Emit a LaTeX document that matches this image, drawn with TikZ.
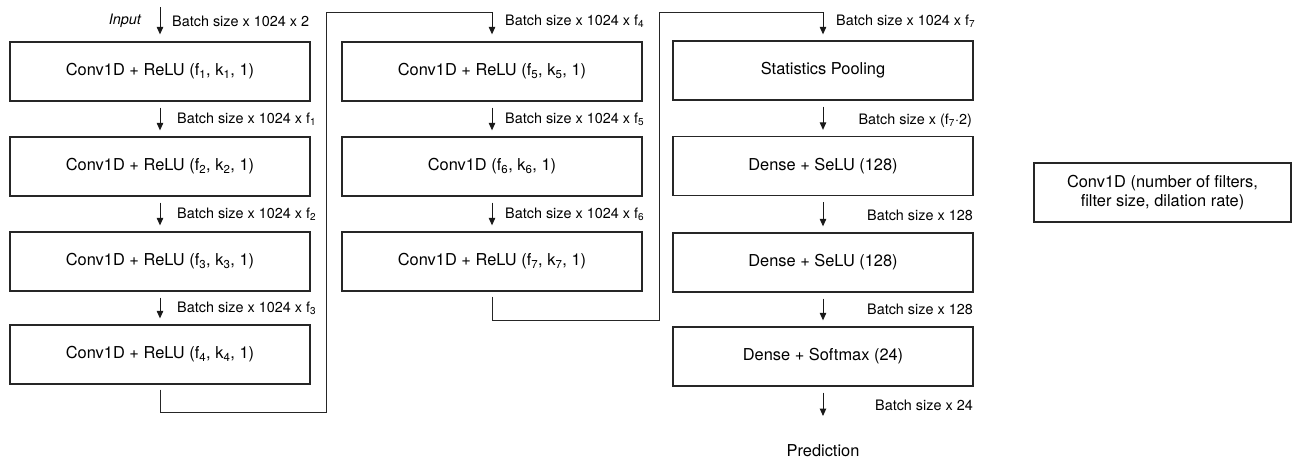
\documentclass[tikz,border=0pt]{standalone}
\usepackage{fontspec}
\setmainfont{TeX Gyre Heros}
\usetikzlibrary{arrows.meta}
\newcommand\lowidx[1]{\textsubscript{#1}}
\begin{document}
\begin{tikzpicture}[x=1pt,y=-1pt,
  layer/.style={draw=black!85,line width=1.3pt,minimum width=300pt,minimum height=59pt,
    inner sep=0pt,font=\fontsize{16.4}{19.5}\selectfont},
  legendbox/.style={draw=black!85,line width=1.3pt,minimum width=257pt,minimum height=59pt,
    inner sep=0pt,align=center,font=\fontsize{16.4}{19.5}\selectfont},
  flow/.style={draw=black!90,line width=1pt,-{Triangle[length=7.5pt,width=6.5pt]}},
  wire/.style={draw=black!85,line width=1pt},
  shape label/.style={font=\fontsize{14.4}{16}\selectfont,inner sep=0pt},
]
\useasboundingbox (0,0) rectangle (1292,459);

% first column of convolution blocks
\node[layer] (c1) at (160,71.5)  {Conv1D + ReLU (f\lowidx{1}, k\lowidx{1}, 1)};
\node[layer] (c2) at (160,166.5) {Conv1D + ReLU (f\lowidx{2}, k\lowidx{2}, 1)};
\node[layer] (c3) at (160,261.5) {Conv1D + ReLU (f\lowidx{3}, k\lowidx{3}, 1)};
\node[layer] (c4) at (160,354.5) {Conv1D + ReLU (f\lowidx{4}, k\lowidx{4}, 1)};

% second column
\node[layer] (c5) at (492,71.5)  {Conv1D + ReLU (f\lowidx{5}, k\lowidx{5}, 1)};
\node[layer] (c6) at (492,166.5) {Conv1D (f\lowidx{6}, k\lowidx{6}, 1)};
\node[layer] (c7) at (492,261.5) {Conv1D + ReLU (f\lowidx{7}, k\lowidx{7}, 1)};

% pooling and dense head
\node[layer] (sp) at (823,70.5)  {Statistics Pooling};
\node[layer] (d1) at (823,166)   {Dense + SeLU (128)};
\node[layer] (d2) at (823,262.5) {Dense + SeLU (128)};
\node[layer] (d3) at (823,356.5) {Dense + Softmax (24)};
\node[font=\fontsize{16.4}{19.5}\selectfont,inner sep=0pt] (pred) at (823,451) {Prediction};

% legend
\node[legendbox] (leg) at (1162.5,192.5) {Conv1D (number of filters,\\filter size, dilation rate)};

% input
\coordinate (in) at (160,7);
\node[font=\fontsize{14.4}{16}\selectfont\itshape,inner sep=0pt,anchor=east] (inlbl) at (141,21) {Input};
\draw[flow] (in) -- ([yshift=7pt]c1.north);
\node[shape label,anchor=west] at (172,21) {Batch size x 1024 x 2};

% column 1 arrows
\draw[flow] ([yshift=-6pt]c1.south) -- ([yshift=6pt]c2.north);
\node[shape label,anchor=west] at (177,119) {Batch size x 1024 x f\lowidx{1}};
\draw[flow] ([yshift=-6pt]c2.south) -- ([yshift=6pt]c3.north);
\node[shape label,anchor=west] at (177,214) {Batch size x 1024 x f\lowidx{2}};
\draw[flow] ([yshift=-6pt]c3.south) -- ([yshift=6pt]c4.north);
\node[shape label,anchor=west] at (177,308) {Batch size x 1024 x f\lowidx{3}};

% column 1 to column 2
\coordinate (w1a) at (160,412);
\coordinate (w1b) at (326,412);
\coordinate (w1c) at (326,12);
\coordinate (w1d) at (492,12);
\draw[wire] ([yshift=-5pt]c4.south) -- (w1a) -- (w1b) -- (w1c) -- (w1d);
\draw[flow] (w1d) -- ([yshift=7pt]c5.north);
\node[shape label,anchor=west] at (505,21) {Batch size x 1024 x f\lowidx{4}};

% column 2 arrows
\draw[flow] ([yshift=-6pt]c5.south) -- ([yshift=6pt]c6.north);
\node[shape label,anchor=west] at (505,119) {Batch size x 1024 x f\lowidx{5}};
\draw[flow] ([yshift=-6pt]c6.south) -- ([yshift=6pt]c7.north);
\node[shape label,anchor=west] at (505,214) {Batch size x 1024 x f\lowidx{6}};

% column 2 to column 3
\coordinate (w2a) at (492,320);
\coordinate (w2b) at (659,320);
\coordinate (w2c) at (659,12);
\coordinate (w2d) at (823,12);
\draw[wire] ([yshift=-5pt]c7.south) -- (w2a) -- (w2b) -- (w2c) -- (w2d);
\draw[flow] (w2d) -- ([yshift=6pt]sp.north);
\node[shape label,anchor=west] at (836,21) {Batch size x 1024 x f\lowidx{7}};

% column 3 arrows
\draw[flow] ([yshift=-6pt]sp.south) -- ([yshift=6pt]d1.north);
\node[shape label,anchor=east] at (972,121) {Batch size x (f\lowidx{7}\textperiodcentered 2)};
\draw[flow] ([yshift=-6pt]d1.south) -- ([yshift=6pt]d2.north);
\node[shape label,anchor=east] at (973,215) {Batch size x 128};
\draw[flow] ([yshift=-6pt]d2.south) -- ([yshift=6pt]d3.north);
\node[shape label,anchor=east] at (973,309) {Batch size x 128};
\coordinate (out) at (823,416);
\draw[flow] ([yshift=-6pt]d3.south) -- (out);
\node[shape label,anchor=east] at (973,405) {Batch size x 24};
\end{tikzpicture}
\end{document}
